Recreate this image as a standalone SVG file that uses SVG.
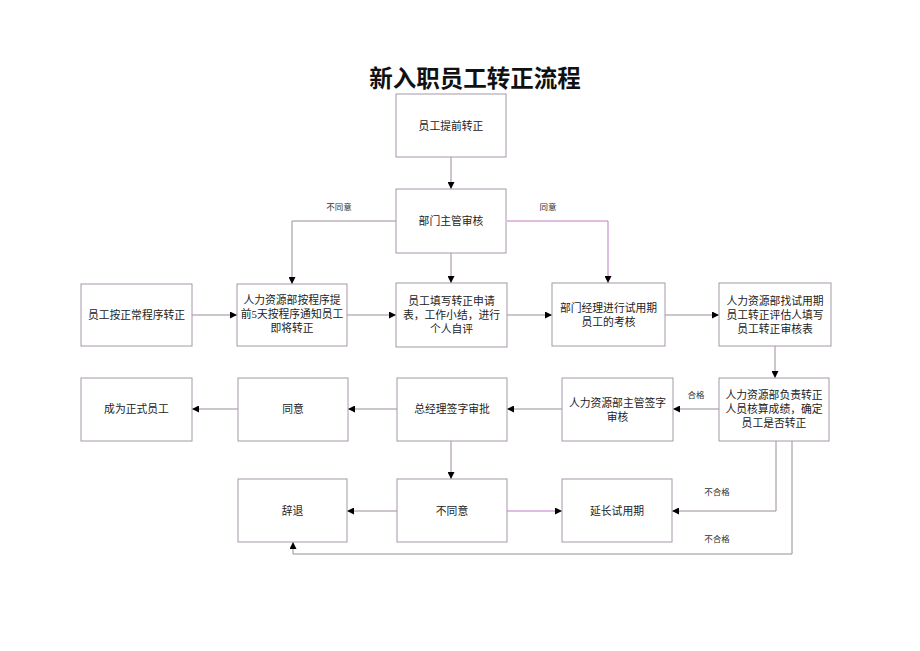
<svg xmlns="http://www.w3.org/2000/svg" width="920" height="651" viewBox="0 0 920 651">
<style>
.bg{fill:#ffffff}
.box{fill:#ffffff;stroke:#a898a8;stroke-width:1}
.t{font-family:"Liberation Serif","Noto Sans CJK SC",serif;font-size:10.8px;fill:#222;text-anchor:middle;dominant-baseline:central}
.lbl{font-family:"Liberation Serif","Noto Sans CJK SC",serif;font-size:8.5px;fill:#333;text-anchor:middle;dominant-baseline:central}
.title{font-family:"Noto Sans CJK SC",sans-serif;font-size:23.5px;font-weight:bold;fill:#111;text-anchor:middle;dominant-baseline:central}
.ln{fill:none;stroke:#9a8e9a;stroke-width:1}
.pk{fill:none;stroke:#c27cc2;stroke-width:1}
</style>
<defs>
<marker id="ah" viewBox="0 0 10 10" refX="10" refY="5" markerWidth="7" markerHeight="7" markerUnits="userSpaceOnUse" orient="auto">
<path d="M0,0 L10,5 L0,10 z" fill="#000"/>
</marker>
</defs>
<rect class="bg" x="0" y="0" width="920" height="651"/>
<text class="title" x="475" y="77">新入职员工转正流程</text>

<g id="connectors">
<line class="ln" x1="451" y1="157" x2="451" y2="189" marker-end="url(#ah)"/>
<polyline class="ln" points="396,221 292,221 292,284" marker-end="url(#ah)"/>
<polyline class="pk" points="507,221 608,221 608,283" marker-end="url(#ah)"/>
<line class="ln" x1="451" y1="253" x2="451" y2="283" marker-end="url(#ah)"/>
<line class="ln" x1="192" y1="315" x2="237" y2="315" marker-end="url(#ah)"/>
<line class="ln" x1="347" y1="315" x2="396" y2="315" marker-end="url(#ah)"/>
<line class="ln" x1="507" y1="315" x2="552" y2="315" marker-end="url(#ah)"/>
<line class="ln" x1="665" y1="315" x2="719" y2="315" marker-end="url(#ah)"/>
<line class="ln" x1="775" y1="346" x2="775" y2="378" marker-end="url(#ah)"/>
<line class="ln" x1="719" y1="409" x2="673" y2="409" marker-end="url(#ah)"/>
<line class="ln" x1="562" y1="409" x2="507" y2="409" marker-end="url(#ah)"/>
<line class="ln" x1="397" y1="409" x2="348" y2="409" marker-end="url(#ah)"/>
<line class="ln" x1="238" y1="409" x2="192" y2="409" marker-end="url(#ah)"/>
<line class="ln" x1="451" y1="441" x2="451" y2="479" marker-end="url(#ah)"/>
<line class="ln" x1="397" y1="511" x2="347" y2="511" marker-end="url(#ah)"/>
<line class="pk" x1="507" y1="511" x2="562" y2="511" marker-end="url(#ah)"/>
<polyline class="ln" points="776,441 776,511 672,511" marker-end="url(#ah)"/>
<polyline class="ln" points="792,441 792,554 293,554 293,542" marker-end="url(#ah)"/>
<text class="lbl" x="339" y="207">不同意</text>
<text class="lbl" x="548" y="207">同意</text>
<text class="lbl" x="696" y="395">合格</text>
<text class="lbl" x="717" y="492">不合格</text>
<text class="lbl" x="717" y="539">不合格</text>
</g>

<g id="n1"><rect class="box" x="396" y="94" width="110" height="63"/><text class="t" x="451" y="125.5">员工提前转正</text></g>
<g id="n2"><rect class="box" x="396" y="189" width="110" height="64"/><text class="t" x="451" y="221">部门主管审核</text></g>
<g id="n3"><rect class="box" x="81" y="284" width="111" height="62"/><text class="t" x="136.5" y="315">员工按正常程序转正</text></g>
<g id="n4"><rect class="box" x="237" y="284" width="110" height="62"/><text class="t" x="292" y="300">人力资源部按程序提</text><text class="t" x="292" y="314">前5天按程序通知员工</text><text class="t" x="292" y="328">即将转正</text></g>
<g id="n5"><rect class="box" x="396" y="283" width="111" height="64"/><text class="t" x="451.5" y="301">员工填写转正申请</text><text class="t" x="451.5" y="315">表，工作小结，进行</text><text class="t" x="451.5" y="329">个人自评</text></g>
<g id="n6"><rect class="box" x="552" y="283" width="113" height="63"/><text class="t" x="608.5" y="308">部门经理进行试用期</text><text class="t" x="608.5" y="322">员工的考核</text></g>
<g id="n7"><rect class="box" x="719" y="283" width="112" height="63"/><text class="t" x="775" y="301">人力资源部找试用期</text><text class="t" x="775" y="315">员工转正评估人填写</text><text class="t" x="775" y="329">员工转正审核表</text></g>
<g id="n8"><rect class="box" x="719" y="378" width="110" height="63"/><text class="t" x="774" y="395">人力资源部负责转正</text><text class="t" x="774" y="409">人员核算成绩，确定</text><text class="t" x="774" y="423">员工是否转正</text></g>
<g id="n9"><rect class="box" x="562" y="378" width="111" height="63"/><text class="t" x="617.5" y="403">人力资源部主管签字</text><text class="t" x="617.5" y="417">审核</text></g>
<g id="n10"><rect class="box" x="397" y="378" width="110" height="63"/><text class="t" x="452" y="409">总经理签字审批</text></g>
<g id="n11"><rect class="box" x="238" y="378" width="110" height="63"/><text class="t" x="293" y="409">同意</text></g>
<g id="n12"><rect class="box" x="81" y="378" width="111" height="63"/><text class="t" x="136.5" y="409">成为正式员工</text></g>
<g id="n13"><rect class="box" x="397" y="479" width="110" height="63"/><text class="t" x="452" y="511">不同意</text></g>
<g id="n14"><rect class="box" x="238" y="479" width="109" height="63"/><text class="t" x="292.5" y="511">辞退</text></g>
<g id="n15"><rect class="box" x="562" y="479" width="110" height="63"/><text class="t" x="617" y="511">延长试用期</text></g>
</svg>
